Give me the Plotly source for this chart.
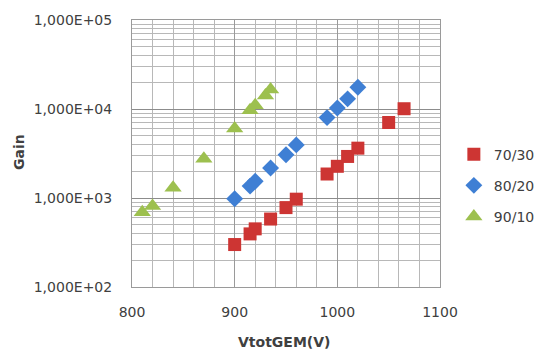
import plotly.graph_objects as go

# Data
v_70_30 = [900, 915, 920, 935, 950, 960, 990, 1000, 1010, 1020, 1050, 1065]
g_70_30 = [300, 395, 450, 580, 780, 970, 1860, 2270, 2930, 3630, 7050, 10070]

v_80_20 = [900, 915, 920, 935, 950, 960, 990, 1000, 1010, 1020]
g_80_20 = [980, 1360, 1545, 2170, 3060, 3950, 8000, 10260, 13000, 17550]

v_90_10 = [810, 820, 840, 870, 900, 915, 920, 930, 935]
g_90_10 = [690, 815, 1300, 2760, 6040, 9660, 10990, 14190, 16560]

y_tickvals = [100, 1000, 10000, 100000]
y_ticktext = ["1,000E+02", "1,000E+03", "1,000E+04", "1,000E+05"]
x_tickvals = [800, 900, 1000, 1100]

FONT = "DejaVu Sans"
TXT = "#404040"

fig = go.Figure()
fig.add_trace(go.Scatter(x=v_70_30, y=g_70_30, mode="markers", name="70/30",
                         legendgroup="a",
                         marker=dict(symbol="square", size=13, color="#CD3533")))
fig.add_trace(go.Scatter(x=v_80_20, y=g_80_20, mode="markers", name="80/20",
                         legendgroup="b",
                         marker=dict(symbol="diamond", size=13, color="#3F7FD4")))
fig.add_trace(go.Scatter(x=v_90_10, y=g_90_10, mode="markers", name="90/10",
                         legendgroup="c",
                         marker=dict(symbol="triangle-up", size=15, color="#9DC04F")))

fig.update_layout(
    width=552, height=356,
    margin=dict(l=132, r=111, t=17, b=69),
    paper_bgcolor="white", plot_bgcolor="white",
    font=dict(family=FONT, size=14, color=TXT),
    showlegend=True,
    legend=dict(x=1.045, xanchor="left", y=0.38, yanchor="middle",
                tracegroupgap=10, font=dict(size=14, color=TXT),
                bgcolor="rgba(0,0,0,0)"),
    xaxis=dict(range=[800, 1100], tickvals=x_tickvals,
               showgrid=True, gridcolor="#9a9a9a", gridwidth=1,
               minor=dict(dtick=20, showgrid=True, gridcolor="#b8b8b8", gridwidth=1),
               showline=True, linecolor="#9a9a9a", linewidth=1, mirror=True,
               zeroline=False, ticks="", ticklabelstandoff=12,
               tickfont=dict(size=14, color=TXT)),
    yaxis=dict(type="log", range=[2, 5], tickvals=y_tickvals, ticktext=y_ticktext,
               showgrid=True, gridcolor="#8c8c8c", gridwidth=1,
               minor=dict(dtick="D1", showgrid=True, gridcolor="#b8b8b8", gridwidth=1),
               showline=True, linecolor="#9a9a9a", linewidth=1, mirror=True,
               zeroline=False, ticks="", ticklabelstandoff=16,
               tickfont=dict(size=14, color=TXT)),
    annotations=[
        dict(text="<b>VtotGEM(V)</b>", xref="paper", yref="paper",
             x=(284 - 132) / 309, y=-(343 - 287) / 270, xanchor="center", yanchor="middle",
             showarrow=False, font=dict(family=FONT, size=14, color=TXT)),
        dict(text="<b>Gain</b>", xref="paper", yref="paper",
             x=(18 - 132) / 309, y=(287 - 150) / 270, xanchor="center", yanchor="middle",
             textangle=-90, showarrow=False, font=dict(family=FONT, size=14, color=TXT)),
    ],
)

fig.write_html("out.html")
